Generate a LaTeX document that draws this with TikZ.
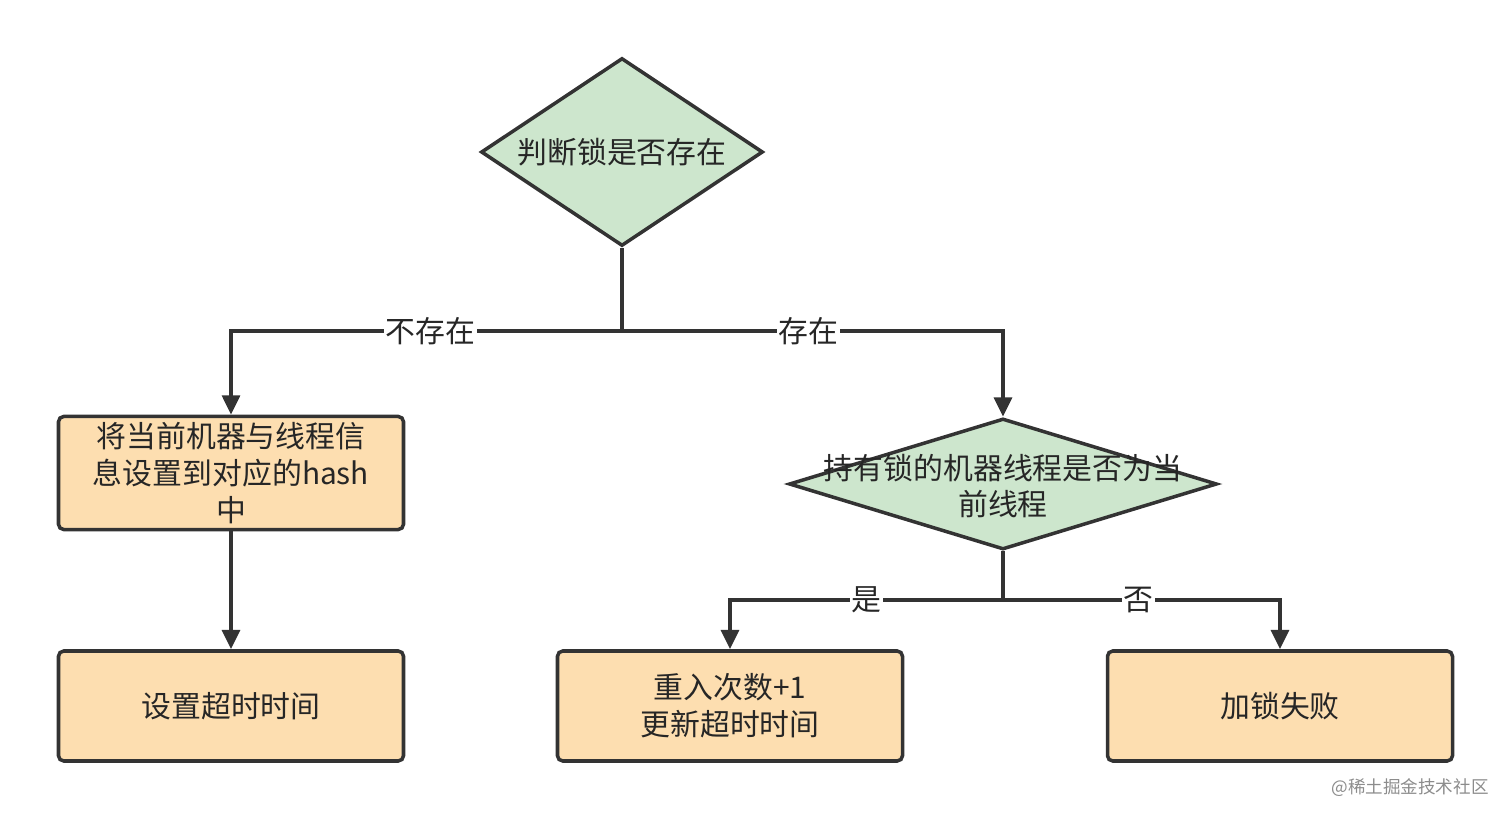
\documentclass[tikz,border=0pt]{standalone}
\usepackage{fontspec}
\setmainfont{Noto Sans CJK SC}
\usetikzlibrary{shapes.geometric,arrows.meta}
\begin{document}
\begin{tikzpicture}[x=0.02cm,y=-0.02cm,
  every node/.style={font=\fontsize{17}{21}\selectfont, text=black!85},
  box/.style={draw=black!80, line width=2pt, fill={rgb,255:red,253;green,222;blue,176}, rounded corners=3pt, minimum width=345*0.02cm, minimum height=110*0.02cm, align=center},
  conn/.style={draw=black!80, line width=2.4pt, -{Triangle[length=11pt,width=10pt]}},
  plain/.style={draw=black!80, line width=2.4pt},
  lbl/.style={fill=white, inner sep=1pt}]
\useasboundingbox (0,0) rectangle (1512,821);
\node[diamond, draw=black!80, line width=2pt, fill={rgb,255:red,205;green,230;blue,205}, inner sep=0, minimum width=282*0.02cm, minimum height=188*0.02cm] (d1) at (622,152) {};
\node at (d1) {判断锁是否存在};
\node[diamond, draw=black!80, line width=2pt, fill={rgb,255:red,205;green,230;blue,205}, inner sep=0, minimum width=428*0.02cm, minimum height=131*0.02cm] (d2) at (1003,484) {};
\node[align=center] at (1003,486) {持有锁的机器线程是否为当\\前线程};
\node[box] (b1) at (231,473) {将当前机器与线程信\\息设置到对应的hash\\中};
\node[box] (b2) at (231,706) {设置超时时间};
\node[box] (b3) at (730,706) {重入次数+1\\更新超时时间};
\node[box] (b4) at (1280,706) {加锁失败};
\coordinate (j1) at (622,331);
\coordinate (j2) at (1003,600);
\draw[plain] (d1.south) -- (j1);
\draw[conn] (j1) -- node[lbl, pos=0.49]{不存在} (231,331) -- (b1.north);
\draw[conn] (j1) -- node[lbl, pos=0.49]{存在} (1003,331) -- (d2.north);
\draw[conn] (b1.south) -- (b2.north);
\draw[plain] (d2.south) -- (j2);
\draw[conn] (j2) -- node[lbl, pos=0.5]{是} (730,600) -- (b3.north);
\draw[conn] (j2) -- node[lbl, pos=0.49]{否} (1280,600) -- (b4.north);
\node[font=\fontsize{10}{12}\selectfont, text=black!45] (wm) at (1410,788) {@稀土掘金技术社区};
\end{tikzpicture}
\end{document}
